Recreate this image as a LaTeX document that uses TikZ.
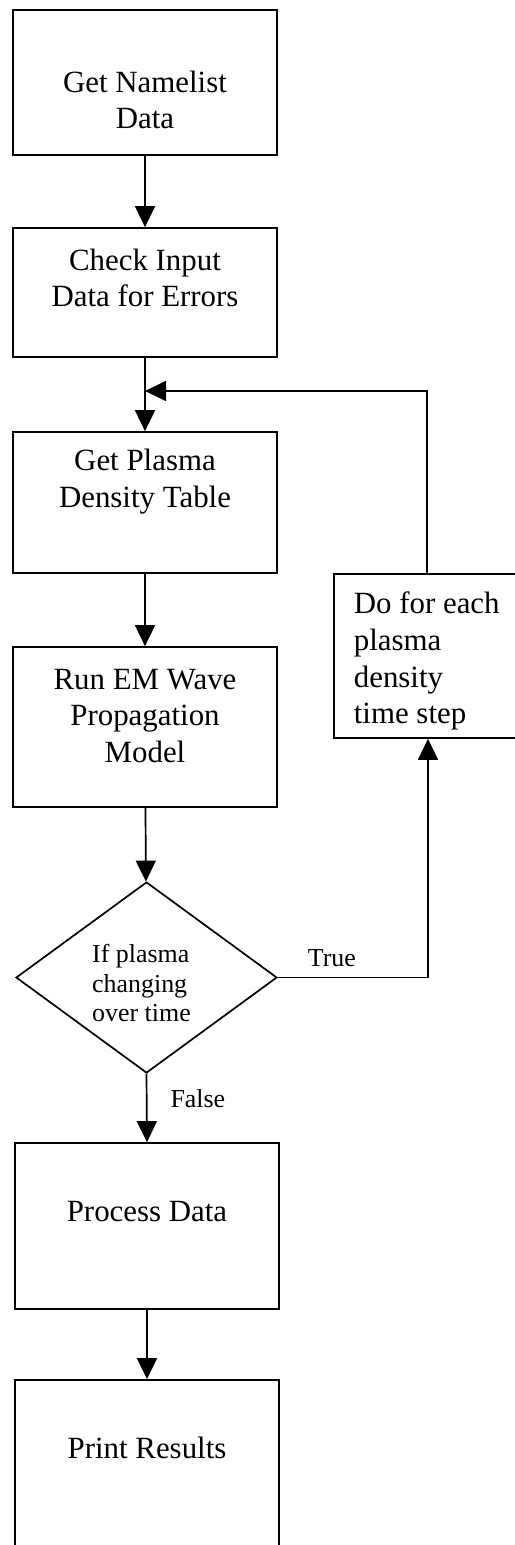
\documentclass[tikz,border=0pt]{standalone}
\usepackage{fontspec}
\setmainfont{Liberation Serif}
\usetikzlibrary{arrows.meta, shapes.geometric}

\begin{document}
\begin{tikzpicture}[
  x=1bp, y=-1bp,
  line width=1.7bp,
  every node/.style={inner sep=0pt},
  procbox/.style={draw, rectangle, minimum width=264bp},
  decision/.style={draw, diamond, minimum width=261bp, minimum height=191bp},
  boxtext/.style={align=center, font=\fontsize{31}{37}\selectfont},
  steptext/.style={align=left, font=\fontsize{31}{37}\selectfont},
  smalltext/.style={align=left, font=\fontsize{26}{29.5}\selectfont},
  flow/.style={-{Triangle[length=21bp, width=20bp]}}
]
\useasboundingbox (0,0) rectangle (515,1545);

% main column
\node[procbox, minimum height=145bp] (namelist) at (145,82.5) {};
\node[boxtext] (namelisttxt) at (145,100) {Get Namelist\\Data};
\node[procbox, minimum height=129bp] (checkin) at (145,292.5) {};
\node[boxtext] (checkintxt) at (145,278) {Check Input\\Data for Errors};
\node[procbox, minimum height=141bp] (denstab) at (145,502.5) {};
\node[boxtext] (denstabtxt) at (145,482) {Get Plasma\\Density Table};
\node[procbox, minimum height=160bp] (emwave) at (145,727) {};
\node[boxtext] (emwavetxt) at (145,716) {Run EM Wave\\Propagation\\Model};
\node[decision] (ifchange) at (146.5,977.5) {};
\node[smalltext] (ifchangetxt) at (141.5,983) {If plasma\\changing\\over time};
\node[procbox, minimum height=166bp] (procdata) at (147,1226) {};
\node[boxtext] (procdatatxt) at (147,1212) {Process Data};
\node[procbox, minimum height=240bp] (prres) at (147,1500) {};
\node[boxtext] (prrestxt) at (147,1448) {Print Results};

% loop box, runs past the right edge
\node[procbox, minimum width=230bp, minimum height=164bp, anchor=west] (eachstep) at (333,656) {};
\node[steptext, anchor=west] (eachsteptxt) at (353,661) {Do for each\\plasma\\density\\time step};

% connectors
\coordinate (merge) at (145,391);
\draw[flow] (namelist) -- (checkin);
\draw[flow] (checkin) -- (denstab);
\draw[flow] ([xshift=94bp]eachstep.north west) |- (merge);
\draw[flow] (denstab) -- (emwave);
\draw[flow] (emwave) -- (ifchange);
\draw[flow] (ifchange.east) -| node[smalltext, pos=0.18, above=10bp] {True} ([xshift=95bp]eachstep.south west);
\draw[flow] (ifchange.south) -- node[smalltext, pos=0.37, right=23bp] {False} (procdata.north);
\draw[flow] (procdata) -- (prres);
\end{tikzpicture}
\end{document}
